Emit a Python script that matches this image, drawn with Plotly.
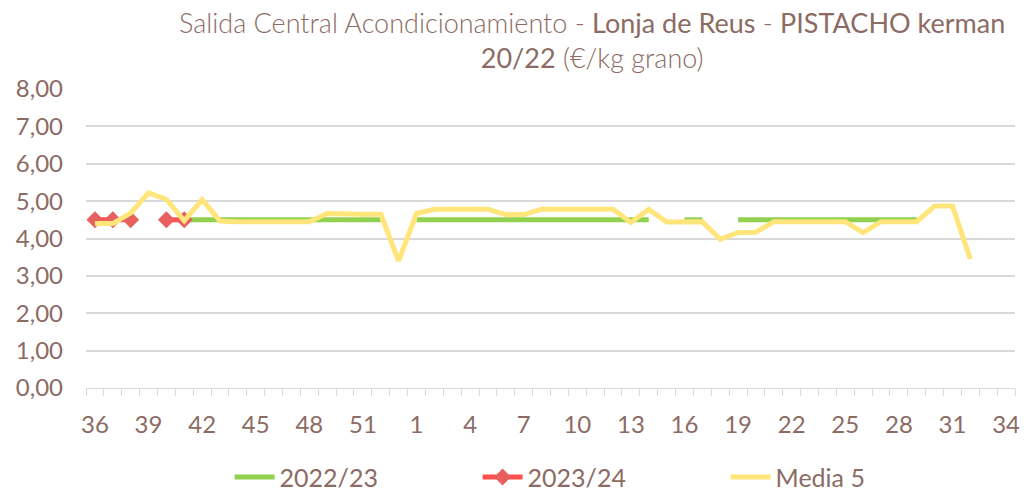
import plotly.graph_objects as go

# Semanas de campaña (36 -> 53, 1 -> 34)
semanas = [str(w) for w in list(range(36, 54)) + list(range(1, 35))]

precio_2022_23 = (
    [None] * 5            # 36-40
    + [4.50] * 12         # 41-52
    + [None]              # 53
    + [4.50] * 14         # 1-14
    + [None]              # 15
    + [4.50] * 2          # 16-17
    + [None]              # 18
    + [4.50] * 11         # 19-29
    + [None] * 5          # 30-34
)

precio_2023_24 = [4.50, 4.50, 4.50, None, 4.50, 4.50] + [None] * 46

media_5 = [
    4.40, 4.40, 4.68, 5.22, 5.05, 4.47, 5.04, 4.47, 4.45, 4.45,   # 36-45
    4.45, 4.45, 4.45, 4.67, 4.65, 4.65, 4.65, 3.40,               # 46-53
    4.67, 4.78, 4.78, 4.78, 4.78, 4.64, 4.64, 4.78, 4.78, 4.78,   # 1-10
    4.78, 4.78, 4.43, 4.78, 4.44, 4.44, 4.45, 3.98, 4.16, 4.17,   # 11-20
    4.45, 4.45, 4.45, 4.45, 4.45, 4.16, 4.45, 4.45, 4.45, 4.87,   # 21-30
    4.87, 3.45, None, None,                                       # 31-34
]

y_ticks = [0, 1, 2, 3, 4, 5, 6, 7, 8]

TXT = "#8c6b64"
GRID = "#d9d9d9"
FONT = "Lato"

idx = list(range(len(semanas)))

fig = go.Figure()
fig.add_trace(go.Scatter(
    x=idx, y=precio_2022_23, name="2022/23", mode="lines",
    line=dict(color="#92d050", width=5),
))
fig.add_trace(go.Scatter(
    x=idx, y=precio_2023_24, name="2023/24", mode="lines+markers",
    line=dict(color="#ff5050", width=5),
    marker=dict(symbol="diamond", size=13, color="#e8605e"),
))
fig.add_trace(go.Scatter(
    x=idx, y=media_5, name="Media 5", mode="lines",
    line=dict(color="#ffe57a", width=5),
))

titulo = (
    "<span style='font-weight:300'>Salida Central Acondicionamiento - </span>"
    "Lonja de Reus<span style='font-weight:300'> - </span>PISTACHO kerman"
    "<br>20/22<span style='font-weight:300'> (€/kg grano)</span>"
)

fig.update_layout(
    width=1032, height=494,
    margin=dict(l=86, r=12, t=89, b=106),
    paper_bgcolor="white", plot_bgcolor="white",
    separators=",.",
    font=dict(family=FONT, color=TXT, size=24),
    showlegend=True,
    legend=dict(
        orientation="h", x=0.555, xanchor="center",
        yref="container", y=0.034, yanchor="middle",
        font=dict(family=FONT, size=25, color=TXT),
        entrywidth=193, itemwidth=40,
    ),
    annotations=[dict(
        text=titulo, xref="paper", yref="paper", x=0.545, y=1.285,
        xanchor="center", yanchor="top", showarrow=False, align="center",
        font=dict(family=FONT, size=27, color=TXT),
    )],
)

fig.update_xaxes(
    range=[-0.5, len(semanas) - 0.5],
    tickmode="array",
    tickvals=idx[::3],
    ticktext=semanas[::3],
    ticks="", showgrid=False, zeroline=False,
    showline=True, linecolor=GRID, linewidth=1,
    tickfont=dict(size=24, color=TXT),
    minor=dict(ticks="outside", tick0=-0.5, dtick=1, ticklen=7,
               tickcolor=GRID, tickwidth=1, showgrid=False),
    ticklabelstandoff=15,
)
fig.update_yaxes(
    range=[0, 8], tickvals=y_ticks, tickformat=".2f",
    showgrid=True, gridcolor=GRID, gridwidth=1.5,
    zeroline=False, showline=False, ticks="",
    tickfont=dict(size=24, color=TXT),
    ticklabelstandoff=22,
)

fig.write_html("out.html")
